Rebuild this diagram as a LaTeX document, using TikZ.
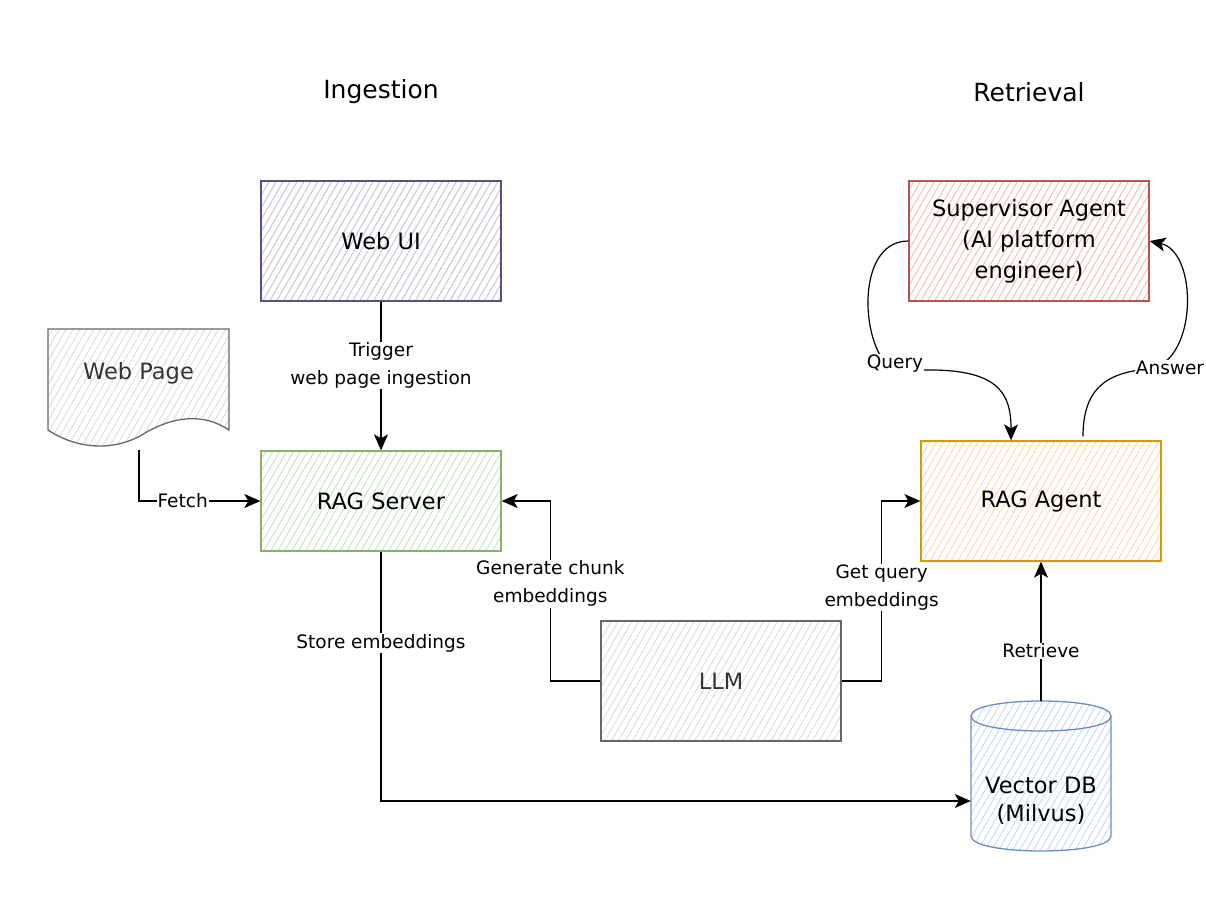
\documentclass[tikz,border=0pt]{standalone}
\usepackage{fontspec}
\setmainfont{DejaVu Sans}
\usetikzlibrary{patterns.meta,arrows.meta,calc}
\definecolor{purpS}{HTML}{56517E}\definecolor{purpF}{HTML}{C6C3DC}
\definecolor{grnS}{HTML}{82B366}\definecolor{grnF}{HTML}{C8E2C5}
\definecolor{redS}{HTML}{B85450}\definecolor{redF}{HTML}{F3BEBB}
\definecolor{orgS}{HTML}{D79B00}\definecolor{orgF}{HTML}{FFD8B2}
\definecolor{gryS}{HTML}{666666}\definecolor{gryF}{HTML}{DDDDDD}
\definecolor{bluS}{HTML}{6C8EBF}\definecolor{bluF}{HTML}{C9DCF6}
\definecolor{txtG}{HTML}{333333}
\tikzset{
  hatch/.style={pattern={Lines[angle=60,distance=6pt,line width=1pt]}, pattern color=#1},
  box/.style={draw, line width=1.3pt, minimum width=240pt, minimum height=120pt, inner sep=0pt,
    align=center, font=\fontsize{22.5}{31}\selectfont},
  arr/.style={-{Stealth[length=16pt,width=14pt,inset=4pt]}, line width=1.2pt},
  lbl/.style={fill=white, font=\fontsize{18.5}{28}\selectfont, align=center, inner sep=1pt},
  ttl/.style={font=\fontsize{25}{30}\selectfont}
}
\begin{document}
\begin{tikzpicture}[x=1pt,y=-1pt]
\useasboundingbox (0,0) rectangle (1206,900);
% titles
\node[ttl] (tIn) at (381,92) {Ingestion};
\node[ttl] (tRe) at (1029,92) {Retrieval};
% boxes
\node[box, draw=purpS, hatch=purpF] (webui) at (381,241) {Web UI};
\node[box, draw=grnS, hatch=grnF, minimum height=100pt] (ragserver) at (381,501) {RAG Server};
\node[box, draw=redS, hatch=redF] (sup) at (1029,241) {Supervisor Agent\\(AI platform\\engineer)};
\node[box, draw=orgS, hatch=orgF] (rag) at (1041,501) {RAG Agent};
\node[box, draw=gryS, hatch=gryF, text=txtG] (llm) at (721,681) {LLM};
% web page document shape
\draw[gryS, line width=1.3pt, hatch=gryF] (48,329) -- (229,329) -- (229,430)
  .. controls (205,414) and (175,414) .. (140,436)
  .. controls (110,452) and (75,448) .. (48,430) -- cycle;
\node[font=\fontsize{22.5}{31}\selectfont, text=txtG] (webpage) at (138.5,373) {Web Page};
\coordinate (wpout) at (139,450);
% vector db cylinder
\draw[bluS, line width=1.3pt, hatch=bluF] (971,716) -- (971,836)
  .. controls (971,856) and (1111,856) .. (1111,836) -- (1111,716)
  .. controls (1111,696) and (971,696) .. (971,716) -- cycle;
\draw[bluS, line width=1.3pt] (971,716) .. controls (971,736) and (1111,736) .. (1111,716);
\node[minimum width=140pt, minimum height=150pt, inner sep=0pt] (vdb) at (1041,776) {};
\node[font=\fontsize{22.5}{28}\selectfont, align=center] (vdbl) at (1041,801) {Vector DB\\(Milvus)};
% connectors
\draw[arr] (webui.south) -- node[lbl, pos=0.43] {Trigger\\web page ingestion} (ragserver.north);
\draw[arr] (wpout) |- node[lbl, pos=0.68] {Fetch} (ragserver.west);
\draw[arr] (ragserver.south) |- node[lbl, pos=0.184] {Store embeddings} (vdbl.west -| vdb.west);
\draw[arr] (llm.west) -- ++(-50,0) |- node[lbl, pos=0.27] {Generate chunk\\embeddings} (ragserver.east);
\draw[arr] (llm.east) -- ++(40,0) |- node[lbl, pos=0.26] {Get query\\embeddings} (rag.west);
\draw[arr] (vdb.north) -- node[lbl, pos=0.36] {Retrieve} (rag.south);
% query / answer curves
\draw[arr] (sup.west) .. controls (862,241) and (860,320) .. (880,355)
  .. controls (890,368) and (900,370) .. (930,370)
  .. controls (1000,370) and (1011,395) .. ($(rag.north)+(-30,0)$);
\node[lbl] (qlab) at (895,364) {Query};
\draw[arr] ($(rag.north)+(42,-4)$) .. controls (1083,390) and (1105,372) .. (1150,369)
  .. controls (1198,360) and (1198,252) .. (sup.east);
\node[lbl] (alab) at (1170,368) {Answer};
\end{tikzpicture}
\end{document}
